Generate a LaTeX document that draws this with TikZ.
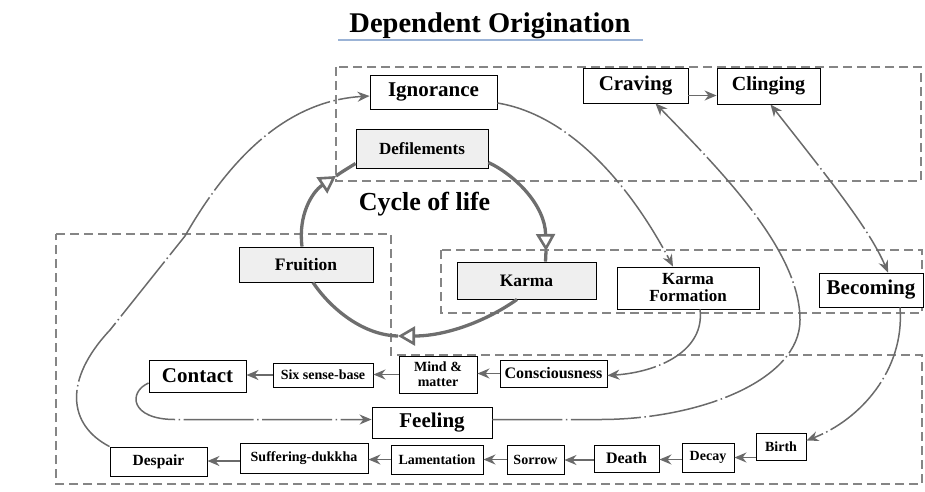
\documentclass[tikz,border=0pt]{standalone}
\usepackage{fontspec}
\setmainfont{Liberation Serif}
\usetikzlibrary{arrows.meta}
\newcommand\myfs[1]{\fontsize{#1}{#1}\selectfont}
\definecolor{linkgray}{HTML}{6A6A6A}
\definecolor{cycgray}{HTML}{6E6E6E}
\definecolor{regiongray}{HTML}{858585}
\definecolor{boxgray}{HTML}{EFEFEF}
\definecolor{titleblue}{HTML}{9BB3D6}
\begin{document}
\begin{tikzpicture}[x=1pt,y=-1pt,
  box/.style={draw=black, line width=0.9pt, fill=white, inner sep=0pt, align=center},
  gbox/.style={box, fill=boxgray},
  link/.style={draw=linkgray, line width=1.5pt},
  arr/.style={link, -{Stealth[length=12pt,width=10pt]}},
  dd/.style={dash pattern=on 70pt off 3.5pt on 1.5pt off 3.5pt},
  region/.style={draw=regiongray, line width=1.2pt, dash pattern=on 9pt off 5pt},
  cyc/.style={draw=cycgray, line width=3.3pt},
  cyctip/.style={cyc, -{Triangle[open, length=17pt, width=19pt, line width=2.6pt]}}
]
\useasboundingbox (0,0) rectangle (925,491);

% dashed regions
\draw[region] (336,67) rectangle (921,181);
\draw[region] (441,250) rectangle (922,313);
\draw[region] (56,234) -- (391,234) -- (391,355) -- (922,355) -- (922,484) -- (56,484) -- cycle;

% title
\node[font=\bfseries\myfs{28.5}, anchor=base, inner sep=0pt] (title) at (490,32) {Dependent Origination};
\draw[line width=1.4pt, titleblue] (338,40) -- (643,40);

\node[font=\bfseries\myfs{26}, anchor=base, inner sep=0pt] (cycle) at (424.5,210) {Cycle of life};

% nodes
\node[box, minimum width=127pt, minimum height=34pt, font=\bfseries\myfs{21}] (ign) at (433.5,92) {Ignorance};
\node[gbox, minimum width=132pt, minimum height=39pt, font=\bfseries\myfs{17}] (defil) at (422,148.5) {Defilements};
\node[box, minimum width=105pt, minimum height=35pt, font=\bfseries\myfs{21}] (crav) at (635.5,85.5) {Craving};
\node[box, minimum width=103pt, minimum height=36pt, font=\bfseries\myfs{20}] (cling) at (768.5,86) {Clinging};
\node[gbox, minimum width=134pt, minimum height=35pt, font=\bfseries\myfs{17.5}] (fruit) at (306,264.5) {Fruition};
\node[gbox, minimum width=139pt, minimum height=37pt, font=\bfseries\myfs{17.5}] (karma) at (526.5,280.5) {Karma};
\node[box, minimum width=142pt, minimum height=42pt, font=\bfseries\fontsize{17}{17}\selectfont] (kf) at (688,288) {Karma\\Formation};
\node[box, minimum width=104pt, minimum height=34pt, font=\bfseries\myfs{21}] (becom) at (871,290) {Becoming};
\node[box, minimum width=97pt, minimum height=32pt, font=\bfseries\myfs{21}] (cont) at (197.5,376) {Contact};
\node[box, minimum width=100pt, minimum height=24pt, font=\bfseries\myfs{14}] (six) at (323,375) {Six sense-base};
\node[box, minimum width=78pt, minimum height=37pt, font=\bfseries\fontsize{14}{15}\selectfont] (mind) at (438,374.5) {Mind \&\\matter};
\node[box, minimum width=107pt, minimum height=27pt, font=\bfseries\myfs{16}] (cons) at (553.5,373.5) {Consciousness};
\node[box, minimum width=120pt, minimum height=31pt, font=\bfseries\myfs{21}] (feel) at (432,422.5) {Feeling};
\node[box, minimum width=97pt, minimum height=29pt, font=\bfseries\myfs{15.5}] (desp) at (158.5,461.5) {Despair};
\node[box, minimum width=128pt, minimum height=30pt, font=\bfseries\myfs{14}] (suff) at (304,458) {Suffering-dukkha};
\node[box, minimum width=92pt, minimum height=29pt, font=\bfseries\myfs{14}] (lam) at (437,459.5) {Lamentation};
\node[box, minimum width=57pt, minimum height=29pt, font=\bfseries\myfs{14}] (sorrow) at (535.5,459.5) {Sorrow};
\node[box, minimum width=65pt, minimum height=27pt, font=\bfseries\myfs{16}] (death) at (626.5,458.5) {Death};
\node[box, minimum width=52pt, minimum height=29pt, font=\bfseries\myfs{14}] (decay) at (708,457.5) {Decay};
\node[box, minimum width=50pt, minimum height=27pt, font=\bfseries\myfs{14}] (birth) at (781,446.5) {Birth};

% cycle of life
\coordinate (t1) at (546,251);
\coordinate (t2) at (398,336);
\coordinate (t3) at (336,176);
\draw[cyctip] ([yshift=-14pt]defil.east) .. controls (515,175) and (545,205) .. (t1);
\draw[cyc] (t1) -- ([xshift=19pt]karma.north);
\draw[cyctip] ([xshift=-9.5pt]karma.south) .. controls (485,322) and (445,336) .. (t2);
\draw[cyc] (t2) .. controls (360,335) and (328,305) .. ([xshift=7pt]fruit.south);
\draw[cyctip] ([xshift=-4pt]fruit.north) .. controls (298,215) and (312,192) .. (t3);
\draw[cyc] (t3) .. controls (343,171) and (350,167) .. ([yshift=-15pt]defil.west);

% long connectors
\coordinate (d1) at (110,330);
\coordinate (d2) at (185,236);
\draw[arr, dd] (desp.north west) .. controls (68,425) and (63,380) .. (d1) -- (d2) .. controls (240,140) and (300,100) .. ([yshift=-4pt]ign.west);
\draw[arr, dd] ([yshift=-11pt]ign.east) .. controls (570,115) and (630,185) .. ([xshift=-15pt]kf.north);
\coordinate (f1) at (600,419.5);
\coordinate (f2) at (800,320);
\draw[arr, dd] ([yshift=3pt]feel.east) -- (f1) .. controls (700,419.5) and (800,380) .. (f2) .. controls (800,250) and (720,170) .. ([xshift=20pt]crav.south);
\draw[link, dd, {Stealth[length=12pt,width=10pt]}-{Stealth[length=12pt,width=10pt]}] ([xshift=2pt]cling.south) .. controls (830,180) and (870,230) .. ([xshift=17pt]becom.north);
\draw[arr, dd] ([xshift=12pt]kf.south) .. controls (705,350) and (660,372) .. ([yshift=-2pt]cons.east);
\draw[arr, dd] ([xshift=29pt]becom.south) .. controls (905,370) and (860,420) .. ([yshift=6pt]birth.east);
\coordinate (c1) at (175,419.5);
\draw[arr, dd] ([yshift=-7pt]cont.west) .. controls (128,392) and (130,419.5) .. (c1) -- ([yshift=3pt]feel.west);

% short connectors
\coordinate (cc) at ([yshift=-10pt]crav.east);
\draw[arr] (cc) -- (cc -| cling.west);
\draw[arr] (cons.west) -- (cons.west -| mind.east);
\draw[arr] (mind.west) -- (mind.west -| six.east);
\draw[arr] (six.west) -- (six.west -| cont.east);
\coordinate (bw) at ([yshift=-11pt]birth.west);
\draw[arr] (bw) -- (bw -| decay.east);
\coordinate (dw) at ([yshift=-2pt]decay.west);
\draw[arr] (dw) -- (dw -| death.east);
\coordinate (dtw) at ([yshift=-1.5pt]death.west);
\draw[arr] (dtw) -- (dtw -| sorrow.east);
\draw[arr] (sorrow.west) -- (sorrow.west -| lam.east);
\draw[arr] (lam.west) -- (lam.west -| suff.east);
\coordinate (sw) at ([yshift=-3pt]suff.west);
\draw[arr] (sw) -- (sw -| desp.east);
\end{tikzpicture}
\end{document}
